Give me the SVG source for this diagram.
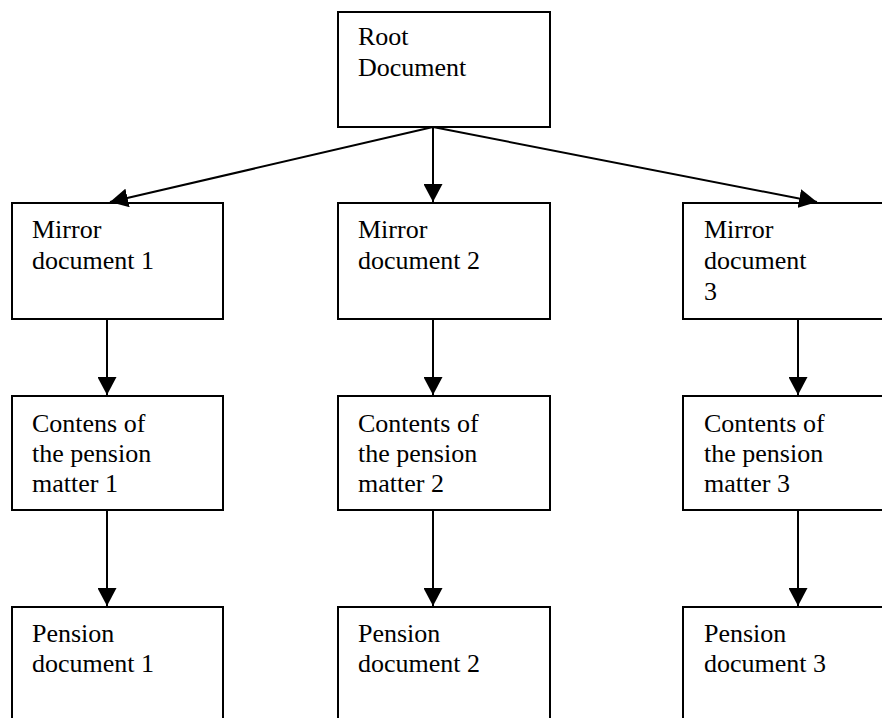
<svg xmlns="http://www.w3.org/2000/svg" width="882" height="718" viewBox="0 0 882 718">
<style>
.box{fill:#fff;stroke:#000;stroke-width:2}
.t{font-family:"Liberation Serif","Times New Roman",serif;font-size:26px;fill:#000}
.c{stroke:#000;stroke-width:2;fill:none}
</style>
<defs>
<marker id="ah" viewBox="0 0 18 19" refX="18" refY="9.5" markerWidth="18" markerHeight="19" markerUnits="userSpaceOnUse" orient="auto">
<path d="M0,0 L18,9.5 L0,19 z" fill="#000"/>
</marker>
</defs>
<rect width="882" height="718" fill="#fff"/>
<g id="root"><rect class="box" x="338" y="12" width="212" height="115"/><text class="t" x="358" y="45">Root</text><text class="t" x="358" y="76">Document</text></g>
<g id="mirror1"><rect class="box" x="12" y="203" width="211" height="116"/><text class="t" x="32" y="238">Mirror</text><text class="t" x="32" y="269">document 1</text></g>
<g id="mirror2"><rect class="box" x="338" y="203" width="212" height="116"/><text class="t" x="358" y="238">Mirror</text><text class="t" x="358" y="269">document 2</text></g>
<g id="mirror3"><rect class="box" x="683" y="203" width="220" height="116"/><text class="t" x="704" y="238">Mirror</text><text class="t" x="704" y="269">document</text><text class="t" x="704" y="300">3</text></g>
<g id="contents1"><rect class="box" x="12" y="396" width="211" height="114"/><text class="t" x="32" y="432">Contens of</text><text class="t" x="32" y="462">the pension</text><text class="t" x="32" y="492">matter 1</text></g>
<g id="contents2"><rect class="box" x="338" y="396" width="212" height="114"/><text class="t" x="358" y="432">Contents of</text><text class="t" x="358" y="462">the pension</text><text class="t" x="358" y="492">matter 2</text></g>
<g id="contents3"><rect class="box" x="683" y="396" width="220" height="114"/><text class="t" x="704" y="432">Contents of</text><text class="t" x="704" y="462">the pension</text><text class="t" x="704" y="492">matter 3</text></g>
<g id="pension1"><rect class="box" x="12" y="607" width="211" height="130"/><text class="t" x="32" y="642">Pension</text><text class="t" x="32" y="672">document 1</text></g>
<g id="pension2"><rect class="box" x="338" y="607" width="212" height="130"/><text class="t" x="358" y="642">Pension</text><text class="t" x="358" y="672">document 2</text></g>
<g id="pension3"><rect class="box" x="683" y="607" width="220" height="130"/><text class="t" x="704" y="642">Pension</text><text class="t" x="704" y="672">document 3</text></g>
<g id="connectors">
<line class="c" x1="433" y1="127" x2="110" y2="202" marker-end="url(#ah)"/>
<line class="c" x1="433" y1="127" x2="433" y2="202" marker-end="url(#ah)"/>
<line class="c" x1="433" y1="127" x2="817" y2="202" marker-end="url(#ah)"/>
<line class="c" x1="107" y1="319" x2="107" y2="395" marker-end="url(#ah)"/>
<line class="c" x1="433" y1="319" x2="433" y2="395" marker-end="url(#ah)"/>
<line class="c" x1="798" y1="319" x2="798" y2="395" marker-end="url(#ah)"/>
<line class="c" x1="107" y1="510" x2="107" y2="606" marker-end="url(#ah)"/>
<line class="c" x1="433" y1="510" x2="433" y2="606" marker-end="url(#ah)"/>
<line class="c" x1="798" y1="510" x2="798" y2="606" marker-end="url(#ah)"/>
</g>
</svg>
